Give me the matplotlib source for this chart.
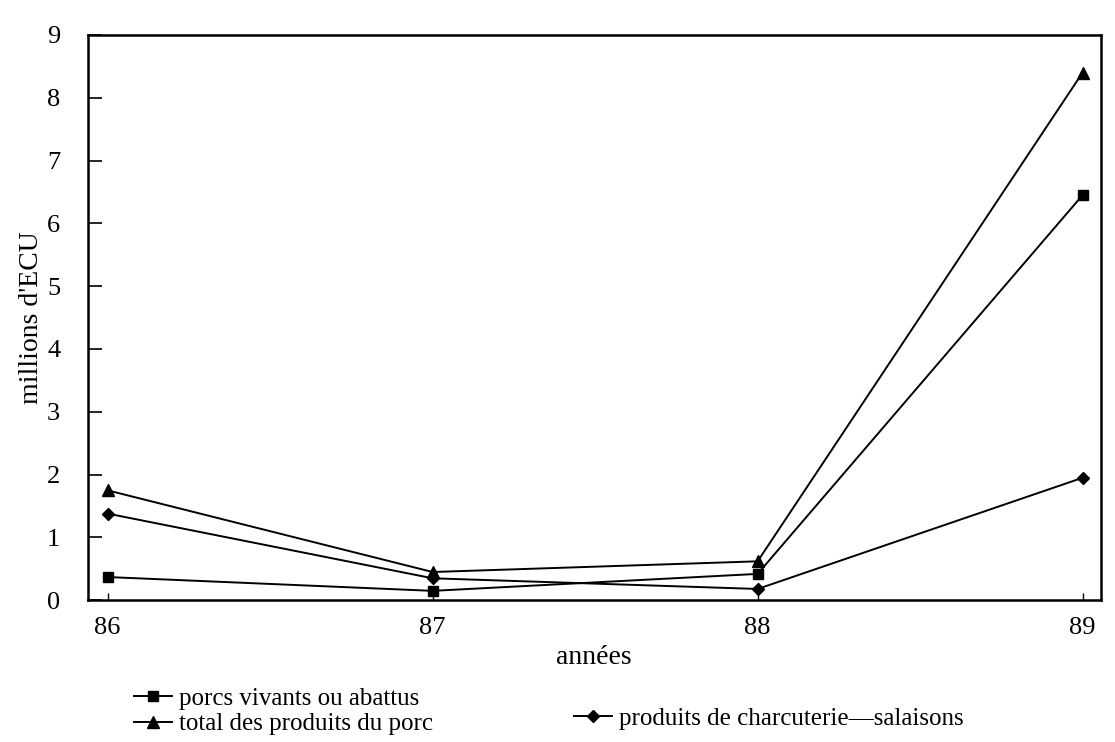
import numpy as np
import matplotlib
matplotlib.use("Agg")
import matplotlib.pyplot as plt

plt.rcParams['font.family'] = ['Liberation Serif', 'DejaVu Serif']

annees = [86, 87, 88, 89]
porcs = [0.37, 0.15, 0.42, 6.45]
charcuterie = [1.38, 0.35, 0.18, 1.95]
total = [1.75, 0.45, 0.62, 8.4]

labels = ["porcs vivants ou abattus",
          "produits de charcuterie\u2014salaisons",
          "total des produits du porc"]

fig = plt.figure(figsize=(11.15, 7.42), dpi=100)
ax = fig.add_axes([0.079, 0.191, 0.908, 0.762])

l1, = ax.plot(annees, porcs, color='black', lw=1.4, marker='s', ms=7)
l2, = ax.plot(annees, charcuterie, color='black', lw=1.4, marker='D', ms=6)
l3, = ax.plot(annees, total, color='black', lw=1.4, marker='^', ms=8)

ax.set_xlim(85.94, 89.055)
ax.set_ylim(0, 9)
ax.set_xticks(annees)
ax.set_yticks(range(10))
ax.tick_params(axis='y', direction='in', length=10, width=1.2, labelsize=19, pad=20)
ax.tick_params(axis='x', direction='in', length=5, width=1, labelsize=19, pad=12)
for s in ax.spines.values():
    s.set_linewidth(1.8)

ax.set_xlabel("années", fontsize=20, labelpad=4)
ax.set_ylabel("millions d'ECU", fontsize=20, labelpad=2)

leg1 = fig.legend([l1], [labels[0]], loc='center left', bbox_to_anchor=(0.1, 0.058),
                  frameon=False, fontsize=18, handlelength=1.5, handletextpad=0.3)
leg2 = fig.legend([l2], [labels[1]], loc='center left', bbox_to_anchor=(0.495, 0.032),
                  frameon=False, fontsize=18, handlelength=1.5, handletextpad=0.3)
leg3 = fig.legend([l3], [labels[2]], loc='center left', bbox_to_anchor=(0.1, 0.024),
                  frameon=False, fontsize=18, handlelength=1.5, handletextpad=0.3)

fig.savefig("out.png", dpi=100)
